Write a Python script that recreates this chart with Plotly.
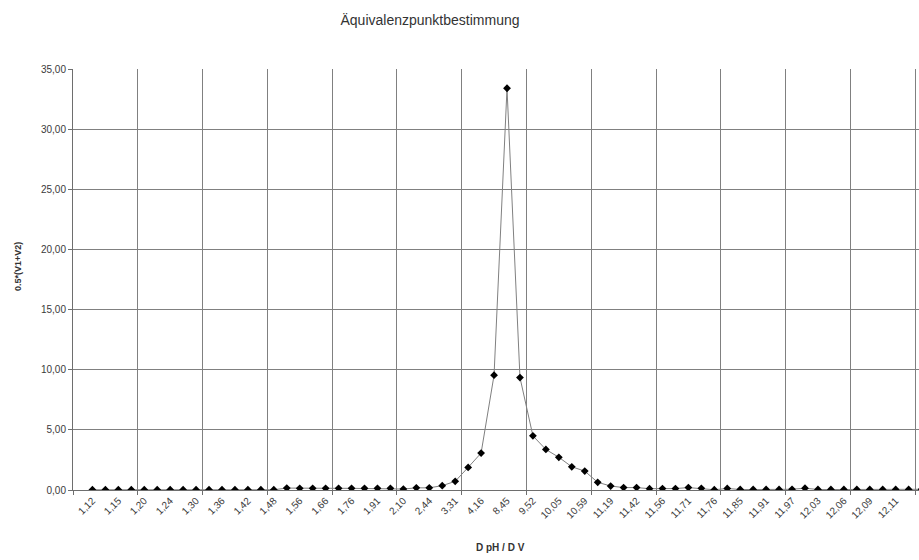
import plotly.graph_objects as go

# pH readings shown on the category axis (every second measurement is labelled)
ph_labels = [
    "1,12", "1,15", "1,20", "1,24", "1,30", "1,36", "1,42", "1,48",
    "1,56", "1,66", "1,76", "1,91", "2,10", "2,44", "3,31", "4,16",
    "8,45", "9,52", "10,05", "10,59", "11,19", "11,42", "11,56", "11,71",
    "11,76", "11,85", "11,91", "11,97", "12,03", "12,06", "12,09", "12,11",
]

# derivative values per measurement (first slot of the axis stays empty)
d_values = [
    0.02, 0.02, 0.02, 0.02, 0.02, 0.02, 0.02, 0.02, 0.02, 0.02,
    0.02, 0.02, 0.02, 0.02, 0.02, 0.16, 0.14, 0.14, 0.14, 0.14,
    0.14, 0.14, 0.14, 0.14, 0.08, 0.18, 0.18, 0.36, 0.72, 1.88,
    3.07, 9.55, 33.4, 9.35, 4.5, 3.37, 2.72, 1.93, 1.57, 0.64,
    0.33, 0.2, 0.2, 0.11, 0.12, 0.12, 0.2, 0.14, 0.02, 0.13,
    0.04, 0.04, 0.04, 0.04, 0.06, 0.15, 0.04, 0.04, 0.04, 0.04,
    0.04, 0.04, 0.04, 0.04, 0.06,
]

x_pos = list(range(1, len(d_values) + 1))
label_pos = x_pos[::2][:len(ph_labels)]

fig = go.Figure()
fig.add_trace(go.Scatter(
    x=x_pos,
    y=d_values,
    mode="lines+markers",
    line=dict(color="#808080", width=1),
    marker=dict(symbol="diamond", size=6, color="#000000"),
    showlegend=False,
    hoverinfo="skip",
))

grid_col = "#808080"
text_col = "#3a3a3a"

fig.update_layout(
    width=919,
    height=560,
    margin=dict(l=73, r=0, t=69, b=70, pad=0),
    paper_bgcolor="white",
    plot_bgcolor="white",
    separators=",.",
    font=dict(family="Liberation Sans, Arial, sans-serif", color=text_col),
    title=dict(
        text="Äquivalenzpunktbestimmung",
        x=430 / 919, xanchor="center", xref="container",
        y=1 - 20 / 560, yanchor="middle", yref="container",
        font=dict(size=14, color="#333333"),
    ),
    xaxis=dict(
        range=[-0.5, 64.8],
        tickmode="array",
        tickvals=label_pos,
        ticktext=ph_labels,
        tickangle=-45,
        tickfont=dict(size=10, color=text_col),
        ticks="",
        showgrid=False,
        zeroline=False,
        showline=True,
        linecolor="#6e6e6e",
        linewidth=1,
        minor=dict(
            tick0=-0.5, dtick=5,
            showgrid=True, gridcolor=grid_col, gridwidth=1,
            ticks="outside", ticklen=4, tickcolor="#6e6e6e",
        ),
    ),
    yaxis=dict(
        range=[0, 35],
        tick0=0, dtick=5,
        tickformat=".2f",
        tickfont=dict(size=10, color=text_col),
        ticks="outside", ticklen=4, tickcolor="#6e6e6e",
        showgrid=True, gridcolor=grid_col, gridwidth=1,
        zeroline=False,
        showline=True,
        linecolor="#6e6e6e",
        linewidth=1,
        mirror=True,
    ),
    annotations=[
        dict(
            text="<b>D pH / D V</b>",
            x=(500 - 73) / (919 - 73), xref="paper",
            y=-(548 - 491) / (560 - 69 - 70), yref="paper",
            xanchor="center", yanchor="middle", showarrow=False,
            font=dict(size=10, color="#333333"),
        ),
        dict(
            text="<b>0.5*(V1+V2)</b>",
            x=-(73 - 18) / (919 - 73), xref="paper",
            y=(491 - 268) / (560 - 69 - 70), yref="paper",
            xanchor="center", yanchor="middle", showarrow=False,
            textangle=-90,
            font=dict(size=9, color="#333333"),
        ),
    ],
)

fig.write_html("out.html")
